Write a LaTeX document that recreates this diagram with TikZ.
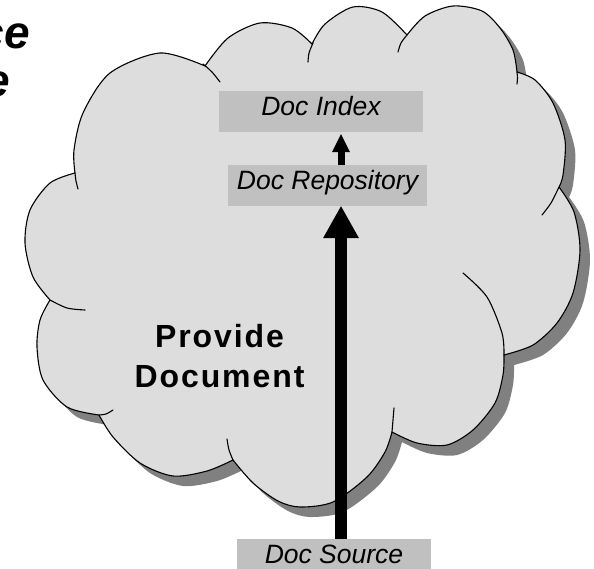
\documentclass[tikz,border=0pt]{standalone}
\usepackage{fontspec}
\setmainfont{Liberation Sans}
\newfontfamily\provfont[LetterSpace=6]{Liberation Sans}
\usetikzlibrary{arrows.meta}
\definecolor{cloudfill}{HTML}{DDDDDD}
\definecolor{cloudshadow}{HTML}{808080}
\definecolor{boxfill}{HTML}{C0C0C0}
\newcommand{\cloudoutline}{plot[smooth] coordinates {(75,173) (74,150) (83,113) (110,73) (160,53) (205,66)}
 -- plot[smooth] coordinates {(205,66) (228,38) (260,23) (292,28) (312,44)}
 -- plot[smooth] coordinates {(312,44) (325,24) (353,7) (382,12) (407,35)}
 -- plot[smooth] coordinates {(407,35) (425,16) (453,6) (482,11) (500,28) (513,50) (517,72)}
 -- plot[smooth] coordinates {(517,72) (535,80) (553,103) (565,140) (563,175) (559,187)}
 -- plot[smooth] coordinates {(559,187) (574,212) (580,250) (573,293) (557,323) (533,345) (504,355)}
 -- plot[smooth] coordinates {(504,355) (503,375) (495,403) (473,430) (447,445) (417,443) (392,432)}
 -- plot[smooth] coordinates {(392,432) (385,452) (367,477) (333,502) (300,507) (278,501) (253,483) (233,460)}
 -- plot[smooth] coordinates {(233,460) (207,471) (173,476) (140,463) (113,437) (99,415)}
 -- plot[smooth] coordinates {(99,415) (67,407) (43,380) (37,347) (40,320) (50,300)}
 -- plot[smooth] coordinates {(50,300) (33,277) (25,243) (30,210) (50,183) (75,173)}
 -- cycle}
\tikzset{
  docbox/.style={fill=boxfill, inner sep=0pt, text height=24.5pt, text depth=16.5pt,
    font=\fontsize{26.5}{30}\selectfont\itshape},
  cloudline/.style={line width=1.1pt, line join=round},
  stubline/.style={line width=1.1pt, line cap=round},
  titletext/.style={anchor=base east, inner sep=0pt, font=\fontsize{46}{48}\selectfont\bfseries\itshape},
  bigarrow/.style={line width=12.5pt, -{Triangle[width=36pt,length=32pt,line width=0pt]}},
  smallarrow/.style={line width=7pt, -{Triangle[width=18pt,length=18pt,line width=0pt]}}
}
\begin{document}
\begin{tikzpicture}[x=1pt,y=-1pt]
\useasboundingbox (0,0) rectangle (594,569);
\clip (0,0) rectangle (594,569);
\fill[white] (0,0) rectangle (594,569);
% cloud shadow and cloud
\fill[cloudshadow, shift={(10,10)}] \cloudoutline;
\filldraw[fill=cloudfill, cloudline] \cloudoutline;
% inner arc stubs of the cloud
\draw[stubline] plot[smooth] coordinates {(203,64) (212,72) (220,82)};
\draw[stubline] plot[smooth] coordinates {(313,43) (309,53) (308,62)};
\draw[stubline] plot[smooth] coordinates {(407,35) (401,43) (398,52)};
\draw[stubline] plot[smooth] coordinates {(517,72) (517.5,78) (517,84)};
\draw[stubline] plot[smooth] coordinates {(559,187) (551,203) (542,215)};
\draw[stubline] plot[smooth] coordinates {(504,355) (502,333) (487,297) (463,273)};
\draw[stubline] plot[smooth] coordinates {(392,432) (393,420) (394,408)};
\draw[stubline] plot[smooth] coordinates {(233,460) (229,450) (227,439)};
\draw[stubline] plot[smooth] coordinates {(99,415) (106,414) (113,410)};
\draw[stubline] plot[smooth] coordinates {(50,300) (67,308) (85,310)};
\draw[stubline] plot[smooth] coordinates {(75,173) (76,181) (78,189)};
% clipped title text at top left (cut off at the edge, as in the reference)
\node[titletext] (tl1) at (30,49) {ce};
\node[titletext] (tl2) at (10,97) {e};
% process label
\node[font=\provfont\fontsize{32}{40}\selectfont\bfseries, align=center, inner sep=0pt] (prov) at (219.5,356.5) {Provide\\Document};
% boxes
\node[docbox, minimum width=204pt] (idx) at (321,111.5) {Doc Index};
\node[docbox, minimum width=199pt] (repo) at (327.5,185.5) {Doc Repository};
\node[docbox, minimum width=194pt, text height=24pt, text depth=8pt] (src) at (334,555) {Doc Source};
% arrows
\coordinate (ax) at (341,0);
\draw[bigarrow] (src.north -| ax) -- (repo.south -| ax);
\draw[smallarrow] (repo.north -| ax) -- ([yshift=-2pt]idx.south -| ax);
\end{tikzpicture}
\end{document}
